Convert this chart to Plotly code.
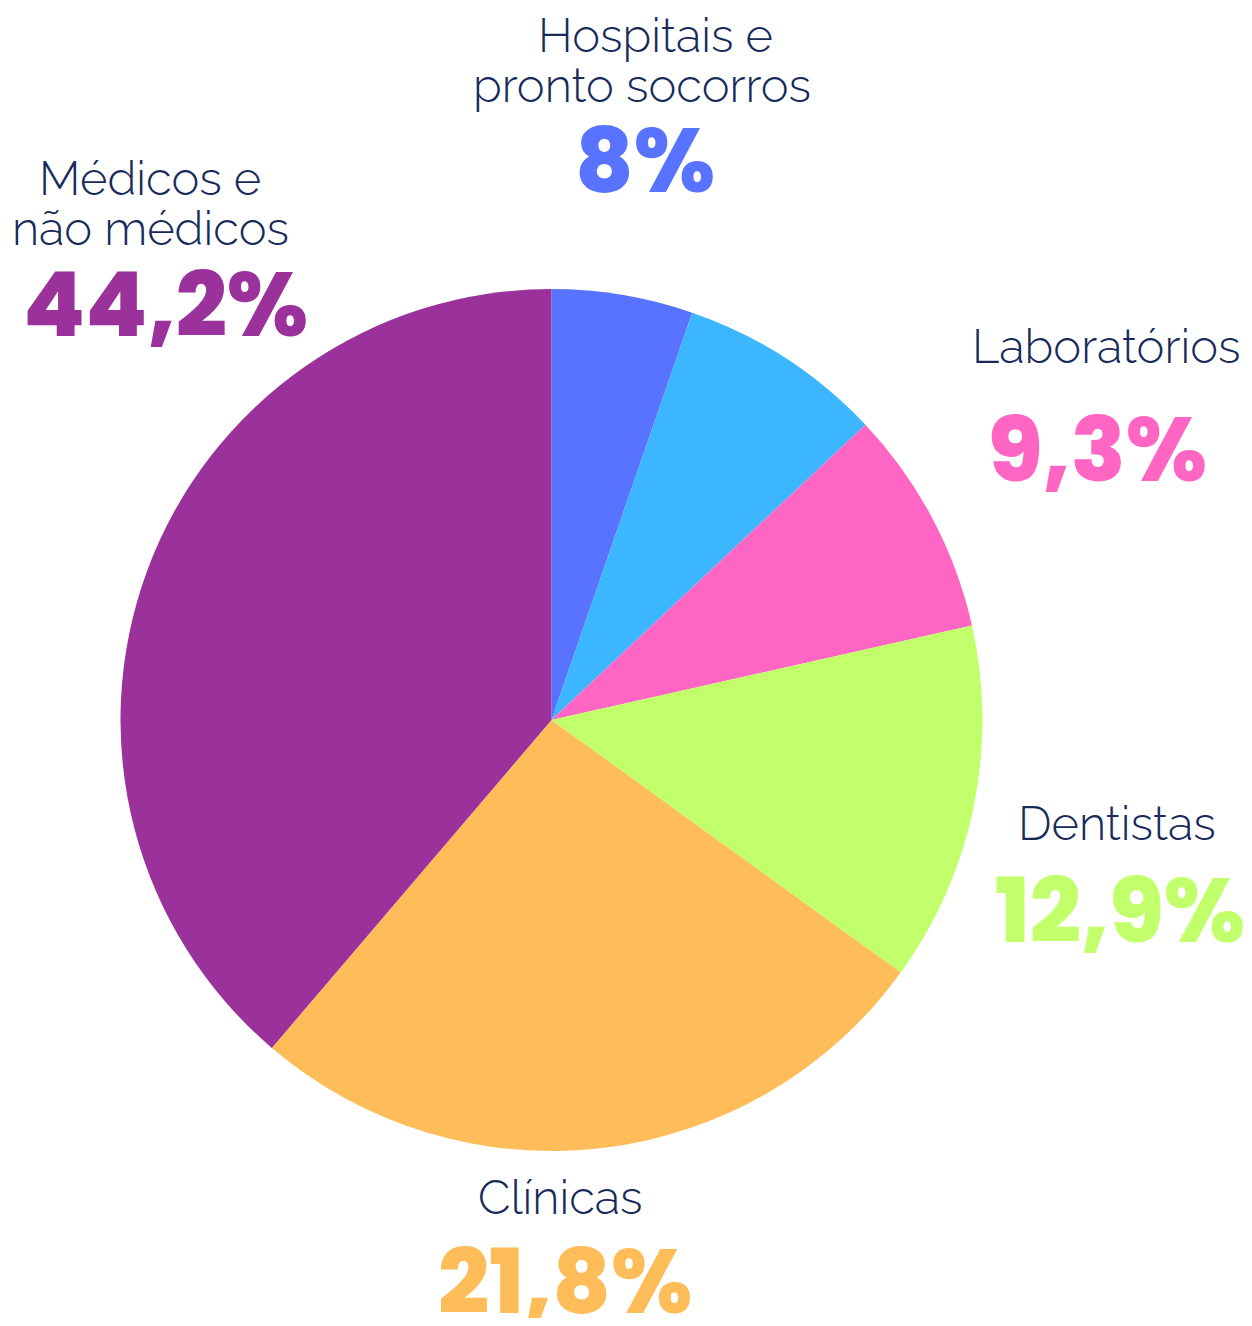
import plotly.graph_objects as go

# ---- data ----
categories = ["Hospitais e pronto socorros", "Outros", "Laboratórios", "Dentistas", "Clínicas", "Médicos e não médicos"]
values = [5.3, 7.7, 8.5, 13.5, 26.3, 38.8]
colors = ["#5773FF", "#3BB6FF", "#FF66C4", "#C1FF6B", "#FFBD59", "#9B319B"]

label_lines = {
    "Hospitais e pronto socorros": ["Hospitais e", "pronto socorros"],
    "Médicos e não médicos": ["Médicos e", "não médicos"],
    "Laboratórios": ["Laboratórios"],
    "Dentistas": ["Dentistas"],
    "Clínicas": ["Clínicas"],
}
pct_labels = {
    "Hospitais e pronto socorros": "8%",
    "Médicos e não médicos": "44,2%",
    "Laboratórios": "9,3%",
    "Dentistas": "12,9%",
    "Clínicas": "21,8%",
}

OFF = 8  # browser body margin
W, H = 1252 - 2 * OFF, 1326 - 2 * OFF
NAVY = "#172a5a"


def fx(px):
    return (px - OFF) / W


def fy(py):
    return 1 - (py - OFF) / H


fig = go.Figure(go.Pie(
    labels=categories, values=values, sort=False, direction="clockwise", rotation=0,
    marker=dict(colors=colors, line=dict(width=0)),
    textinfo="none", hoverinfo="label+percent", showlegend=False,
    domain=dict(x=[fx(120), fx(983)], y=[fy(1151), fy(289)]),
))

# label positions in pixels: (line center xs, first line y, pct center x, pct y)
pos = {
    "Hospitais e pronto socorros": ((655, 642), 35, 645, 160),
    "Médicos e não médicos": ((150, 150), 178, 165, 304),
    "Laboratórios": ((1106,), 347, 1097, 450),
    "Dentistas": ((1117,), 823, 1120, 910),
    "Clínicas": ((560,), 1197, 565, 1281),
}
ann = []
for cat, (lxs, ly, px, py) in pos.items():
    color = colors[categories.index(cat)]
    for i, line in enumerate(label_lines[cat]):
        ann.append(dict(x=fx(lxs[i]), y=fy(ly + 50 * i), xref="paper", yref="paper",
                        text=line, showarrow=False, xanchor="center", yanchor="middle",
                        font=dict(family="Raleway, Lato, Inter", size=47, color=NAVY, weight=300)))
    ann.append(dict(x=fx(px), y=fy(py), xref="paper", yref="paper",
                    text=pct_labels[cat], showarrow=False, xanchor="center", yanchor="middle",
                    font=dict(family="Poppins, Open Sans", size=90, color=color, weight=800)))

fig.update_layout(width=W, height=H, margin=dict(l=0, r=0, t=0, b=0),
                  paper_bgcolor="white", plot_bgcolor="white", annotations=ann)
fig.write_html("out.html")
